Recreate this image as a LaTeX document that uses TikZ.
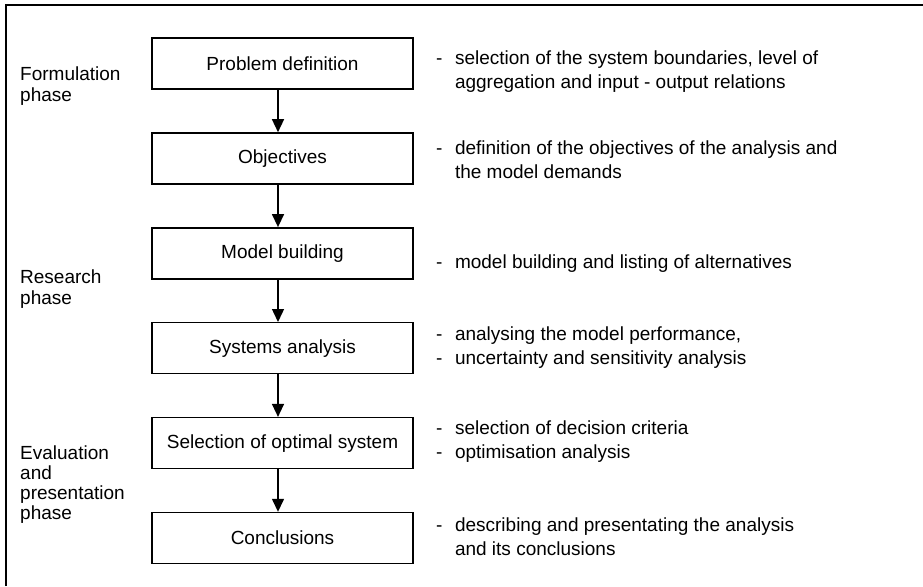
\documentclass[tikz,border=0pt]{standalone}
\usepackage{fontspec}
\setmainfont{Liberation Sans}
\usetikzlibrary{arrows.meta, positioning}

\begin{document}
\begin{tikzpicture}[x=1pt, y=1pt,
    stage/.style={draw, line width=1.4pt, minimum width=261pt, minimum height=51pt,
      inner sep=0pt, font=\fontsize{19}{23}\selectfont},
    flow/.style={line width=1.4pt, -{Triangle[length=13pt, width=12pt]}},
    note/.style={anchor=base west, inner sep=0pt, font=\fontsize{19}{24}\selectfont},
    phase/.style={anchor=base west, inner sep=0pt, align=left,
      font=\fontsize{19}{21}\selectfont}]
  \useasboundingbox (0,0) rectangle (923,-586);
  % frame
  \draw[line width=2pt] (6,-586) -- (6,-5) -- (923,-5);

  % stages of the analysis
  \node[stage] (prob) at (282.5,-63.5) {Problem definition};
  \node[stage, below=42.5pt of prob] (obj) {Objectives};
  \node[stage, below=42.5pt of obj] (model) {Model building};
  \node[stage, below=42.5pt of model] (sys) {Systems analysis};
  \node[stage, below=42.5pt of sys] (opt) {Selection of optimal system};
  \node[stage, below=42.5pt of opt] (concl) {Conclusions};
  \foreach \a/\b in {prob/obj, obj/model, model/sys, sys/opt, opt/concl}
    \draw[flow] ([xshift=-4.5pt]\a.south) -- ([xshift=-4.5pt]\b.north);

  % phases (base = last line)
  \node[phase] (form) at (20,-101) {Formulation\\phase};
  \node[phase] (res) at (20,-304) {Research\\phase};
  \node[phase, font=\fontsize{19}{20}\selectfont] (eval) at (20,-519)
    {Evaluation\\and\\presentation\\phase};

  % remarks
  \node[note] (probnote) at (436,-64.5) {\begin{tabular}[t]{@{}l@{\hspace{12.5pt}}l@{}}
    - & selection of the system boundaries, level of\\
      & aggregation and input - output relations\end{tabular}};
  \node[note] (objnote) at (436,-154.5) {\begin{tabular}[t]{@{}l@{\hspace{12.5pt}}l@{}}
    - & definition of the objectives of the analysis and\\
      & the model demands\end{tabular}};
  \node[note] (modelnote) at (436,-268) {\begin{tabular}[t]{@{}l@{\hspace{12.5pt}}l@{}}
    - & model building and listing of alternatives\end{tabular}};
  \node[note] (sysnote) at (436,-340.5) {\begin{tabular}[t]{@{}l@{\hspace{12.5pt}}l@{}}
    - & analysing the model performance,\\
    - & uncertainty and sensitivity analysis\end{tabular}};
  \node[note] (optnote) at (436,-434) {\begin{tabular}[t]{@{}l@{\hspace{12.5pt}}l@{}}
    - & selection of decision criteria\\
    - & optimisation analysis\end{tabular}};
  \node[note] (conclnote) at (436,-531.5) {\begin{tabular}[t]{@{}l@{\hspace{12.5pt}}l@{}}
    - & describing and presentating the analysis\\
      & and its conclusions\end{tabular}};
\end{tikzpicture}
\end{document}
